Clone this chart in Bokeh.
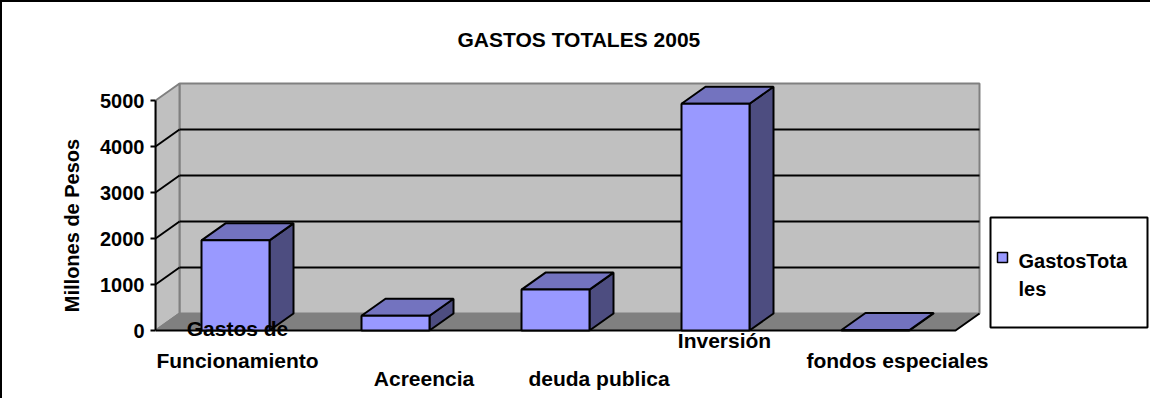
from bokeh.plotting import figure
from bokeh.models import Range1d, LinearAxis, FixedTicker, ColumnDataSource
from bokeh.embed import file_html
from bokeh.resources import INLINE
from bokeh.core.properties import value

# ---------------- data ----------------
categories = ["Gastos de Funcionamiento", "Acreencia", "deuda publica", "Inversión", "fondos especiales"]
gastos_totales = [1960, 320, 890, 4930, 10]
y_ticks = [0, 1000, 2000, 3000, 4000, 5000]
series_name = "GastosTotales"
title_text = "GASTOS TOTALES 2005"
y_label = "Millones de Pesos"
category_labels = ["Gastos de\nFuncionamiento", "Acreencia", "deuda publica", "Inversión", "fondos especiales"]
legend_lines = ["GastosTota", "les"]

# ---------------- layout (picture pixels) ----------------
PAGE_X0, PAGE_Y0 = 2, 2            # canvas origin in the picture (after 2px border)
W, H = 1150, 398
AXIS_X = 155                        # front y-axis line = frame left
FRAME_TOP = 50                      # frame top (frame centre = axis-label centre)
ZERO_Y = 330                        # value 0
SLOT_PX = 160                       # width of one category slot
UNIT_PX = 230.0 / 5000.0            # pixels per value unit
DEPTH_DX, DEPTH_DY = 24, 17         # 3D depth offset
BAR_FRAC = 0.425
LABEL_DX = [2, 28.5, 43.5, 9, 22]
LABEL_Y = [344, 378, 378, 340, 360]
TITLE_LEFT = 457
FONT_NAME = "Liberation Sans"
FONT = value(FONT_NAME)

FRONT = "#9999FF"
TOP = "#7373BF"
SIDE = "#4D4D80"
WALL = "#C0C0C0"
FLOOR = "#808080"


def xs(px):
    return (px - AXIS_X) / SLOT_PX


def vs(py):
    return (ZERO_Y - py) / UNIT_PX


p = figure(width=W, height=H, output_backend="svg", toolbar_location=None,
           x_range=Range1d(xs(AXIS_X), xs(PAGE_X0 + W)),
           y_range=Range1d(vs(PAGE_Y0 + H), vs(FRAME_TOP)),
           x_axis_type=None, y_axis_type=None,
           min_border_left=AXIS_X - PAGE_X0, min_border_right=0,
           min_border_top=FRAME_TOP - PAGE_Y0, min_border_bottom=0)
p.outline_line_color = None
p.background_fill_color = "white"
p.border_fill_color = "white"
p.styles = {"border-left": "2px solid black", "border-top": "2px solid black"}

p.title.text = title_text
p.title.text_font = FONT_NAME
p.title.text_font_style = "bold"
p.title.text_font_size = "21px"
p.title.text_color = "black"
p.title.align = "left"
p.title.offset = TITLE_LEFT - AXIS_X
p.title.standoff = 0
p.title.vertical_align = "bottom"

yaxis = LinearAxis(ticker=FixedTicker(ticks=y_ticks), bounds=(y_ticks[0], y_ticks[-1]))
yaxis.axis_label = y_label
yaxis.axis_label_text_font = FONT_NAME
yaxis.axis_label_text_font_style = "bold"
yaxis.axis_label_text_font_size = "20px"
yaxis.axis_label_text_color = "black"
yaxis.axis_label_standoff = 14
yaxis.major_label_text_font = FONT_NAME
yaxis.major_label_text_font_style = "bold"
yaxis.major_label_text_font_size = "20px"
yaxis.major_label_text_color = "black"
yaxis.major_label_standoff = 6
yaxis.axis_line_width = 2
yaxis.axis_line_color = "black"
yaxis.major_tick_line_width = 2
yaxis.major_tick_line_color = "black"
yaxis.major_tick_out = 5
yaxis.major_tick_in = 0
yaxis.minor_tick_line_color = None
p.add_layout(yaxis, "left")

n = len(categories)
ymax = y_ticks[-1]
dx = DEPTH_DX / SLOT_PX
dy = DEPTH_DY / UNIT_PX

# walls and floor
p.quad(left=dx, right=n + dx, bottom=dy, top=ymax + dy,
       fill_color=WALL, line_color="#808080", line_width=2)
p.patch([0, dx, dx, 0], [0, dy, ymax + dy, ymax],
        fill_color=WALL, line_color="#808080", line_width=2)
p.patch([0, n, n + dx, dx], [0, 0, dy, dy], fill_color=FLOOR, line_color=None)
p.line([0, dx], [0, dy], line_color="#808080", line_width=2)

# gridlines
gx, gy = [], []
for t in y_ticks[1:-1]:
    gx.append([dx, n + dx]); gy.append([t + dy, t + dy])
    gx.append([0, dx]); gy.append([t, t + dy])
p.multi_line(gx, gy, line_color="black", line_width=2)

# floor front and right edges
p.line([0, n, n + dx], [0, 0, dy], line_color="black", line_width=2)

# bars
fx, fy, tx, ty, sx, sy = [], [], [], [], [], []
for i, val in enumerate(gastos_totales):
    c = i + 0.5
    L, R = c - BAR_FRAC / 2, c + BAR_FRAC / 2
    fx.append([L, R, R, L]); fy.append([0, 0, val, val])
    tx.append([L, R, R + dx, L + dx]); ty.append([val, val, val + dy, val + dy])
    sx.append([R, R + dx, R + dx, R]); sy.append([0, dy, val + dy, val])
p.patches(sx, sy, fill_color=SIDE, line_color="black", line_width=2)
p.patches(tx, ty, fill_color=TOP, line_color="black", line_width=2)
p.patches(fx, fy, fill_color=FRONT, line_color="black", line_width=2)

# category labels
lsrc = ColumnDataSource(dict(
    x=[xs(AXIS_X + SLOT_PX * (i + 0.5) + LABEL_DX[i]) for i in range(n)],
    y=[vs(LABEL_Y[i]) for i in range(n)],
    text=category_labels))
p.text(x="x", y="y", text="text", source=lsrc, text_font=FONT,
       text_font_style="bold", text_font_size="21px", text_align="center",
       text_baseline="middle", text_line_height=1.4, text_color="black")

# legend
p.quad(left=xs(990), right=xs(1147), top=vs(217), bottom=vs(327),
       fill_color="white", line_color="black", line_width=2)
p.quad(left=xs(997), right=xs(1007), top=vs(252), bottom=vs(262),
       fill_color=FRONT, line_color="black", line_width=1.5)
p.text(x=[xs(1018), xs(1018)], y=[vs(260), vs(288)], text=legend_lines,
       text_font=FONT, text_font_style="bold", text_font_size="20px",
       text_align="left", text_baseline="middle", text_color="black")

open("out.html", "w").write(file_html(p, INLINE))
